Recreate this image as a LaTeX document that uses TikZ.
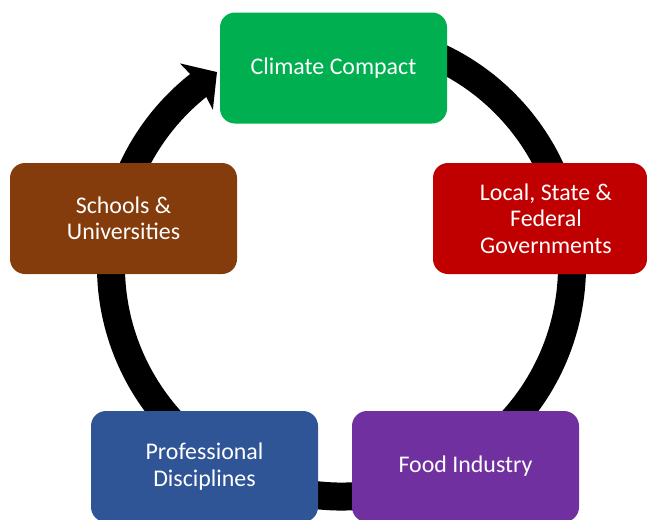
\documentclass[tikz,border=0pt]{standalone}
\usepackage{fontspec}
\setmainfont{Carlito}
\usetikzlibrary{arrows.meta,bending}

\definecolor{climategreen}{RGB}{0,176,80}
\definecolor{govred}{RGB}{192,0,0}
\definecolor{foodpurple}{RGB}{112,48,160}
\definecolor{profblue}{RGB}{47,85,151}
\definecolor{schoolbrown}{RGB}{132,60,12}

\begin{document}
\begin{tikzpicture}[
    stage/.style={rectangle, rounded corners=0.3cm, minimum width=4.54cm,
      minimum height=2.22cm, text=white, align=center,
      font=\fontsize{13.6}{15.1}\selectfont, inner sep=0pt},
    ring/.style={line width=0.56cm, black,
      -{Stealth[length=0.5cm, width=1.12cm, inset=0.08cm, flex]}}
  ]
    \useasboundingbox (0,0) rectangle (12.94,-10.38);
    \clip (0,0) rectangle (12.94,-10.38);

    % Cycle ring
    \coordinate (c) at (6.83,-5.32);
    \draw[ring] (c) ++(80:4.61) arc[start angle=80, end angle=-237.3, radius=4.61];

    % Stages
    \node[stage, fill=climategreen] (climate) at (6.67,-1.36) {Climate Compact};
    \node[stage, fill=govred, minimum width=4.28cm] (gov) at (10.80,-4.37)
      {\hspace*{0.24cm}Local, State \&\\\hspace*{0.24cm}Federal\\\hspace*{0.24cm}Governments};
    \node[stage, fill=foodpurple] (food) at (9.31,-9.33) {Food Industry};
    \node[stage, fill=profblue] (prof) at (4.09,-9.33) {Professional\\Disciplines};
    \node[stage, fill=schoolbrown] (schools) at (2.47,-4.37) {Schools \&\\Universities};
\end{tikzpicture}
\end{document}
